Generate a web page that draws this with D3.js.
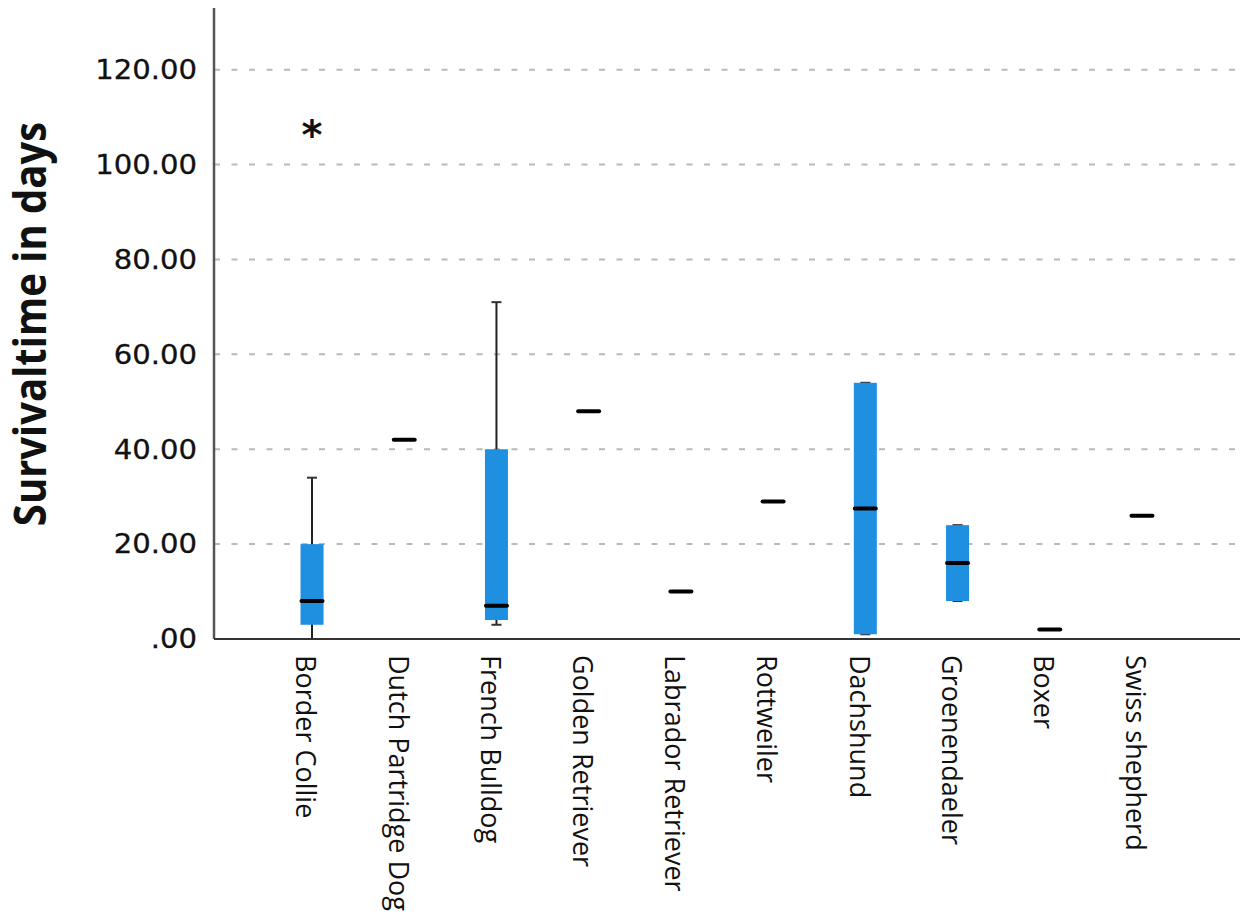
<!DOCTYPE html>
<html>
<head>
<meta charset="utf-8">
<script src="https://cdn.jsdelivr.net/npm/d3@7"></script>
<style>
  html, body { margin: 0; padding: 0; background: #fff; }
  svg { display: block; }
</style>
</head>
<body>
<svg id="chart" width="1248" height="920"></svg>
<script>
// ---- data ----
const categories = ["Border Collie", "Dutch Partridge Dog", "French Bulldog", "Golden Retriever",
  "Labrador Retriever", "Rottweiler", "Dachshund", "Groenendaeler", "Boxer", "Swiss shepherd"];
const whiskerLow  = [0,    null, 3,  null, null, null, 1,    8,  null, null];
const q1Values    = [3,    null, 4,  null, null, null, 1,    8,  null, null];
const medians     = [8,    42,   7,  48,   10,   29,   27.5, 16, 2,    26];
const q3Values    = [20,   null, 40, null, null, null, 54,   24, null, null];
const whiskerHigh = [34,   null, 71, null, null, null, 54,   24, null, null];
const outliers    = [[108], [], [], [], [], [], [], [], [], []];
const yTicks = [0, 20, 40, 60, 80, 100, 120];
const yTickLabels = [".00", "20.00", "40.00", "60.00", "80.00", "100.00", "120.00"];
const yTitle = "Survivaltime in days";

// ---- layout ----
const svg = d3.select("#chart");
const plotLeft = 214, plotRight = 1240, plotTop = 8, plotBottom = 639;

const x = d3.scalePoint().domain(categories).range([plotLeft, plotRight]).padding(1.063);
const y = d3.scaleLinear().domain([0, 133]).range([plotBottom, plotTop]);

const boxW = 23, medW = 25, capW = 10;
const fill = "#1f8fe0";

// gridlines
svg.append("g").selectAll("line").data(yTicks.filter(d => d > 0)).join("line")
  .attr("x1", plotLeft).attr("x2", plotRight)
  .attr("y1", d => y(d)).attr("y2", d => y(d))
  .attr("stroke", "#b9b9b9").attr("stroke-width", 2)
  .attr("stroke-dasharray", "6,11.5");

// y tick labels
const tl = svg.append("g");
yTicks.forEach((t, i) => {
  tl.append("text")
    .attr("transform", `translate(197,${y(t)}) scale(1.12,1)`)
    .attr("text-anchor", "end").attr("dy", "0.36em")
    .attr("font-family", "DejaVu Sans").attr("font-size", 26).attr("fill", "#111")
    .attr("stroke", "#111").attr("stroke-width", 0.3)
    .text(yTickLabels[i]);
});

// y title
svg.append("text")
  .attr("transform", `translate(30,324) scale(1.1,1) rotate(-90)`)
  .attr("text-anchor", "middle").attr("dy", "0.36em")
  .attr("font-family", "Open Sans").attr("font-weight", "bold").attr("font-size", 40)
  .attr("fill", "#111")
  .text(yTitle);

// boxes
const g = svg.append("g");
categories.forEach((c, i) => {
  const cx = x(c);
  if (whiskerHigh[i] != null) {
    g.append("line").attr("x1", cx).attr("x2", cx)
      .attr("y1", y(whiskerLow[i])).attr("y2", y(whiskerHigh[i]))
      .attr("stroke", "#222").attr("stroke-width", 2);
    [whiskerLow[i], whiskerHigh[i]].forEach(v => {
      g.append("line").attr("x1", cx - capW / 2).attr("x2", cx + capW / 2)
        .attr("y1", y(v)).attr("y2", y(v))
        .attr("stroke", "#333").attr("stroke-width", 2);
    });
    g.append("rect").attr("x", cx - boxW / 2).attr("width", boxW)
      .attr("y", y(q3Values[i])).attr("height", y(q1Values[i]) - y(q3Values[i]))
      .attr("fill", fill);
  }
  g.append("line").attr("x1", cx - medW / 2 + 2).attr("x2", cx + medW / 2 - 2)
    .attr("y1", y(medians[i])).attr("y2", y(medians[i]))
    .attr("stroke", "#000").attr("stroke-width", 4).attr("stroke-linecap", "round");
  outliers[i].forEach(v => {
    g.append("text").attr("x", cx).attr("y", y(v)).attr("dy", "0.55em")
      .attr("text-anchor", "middle")
      .attr("font-family", "DejaVu Sans").attr("font-weight", "bold")
      .attr("font-size", 40).attr("fill", "#111")
      .text("*");
  });
});

// axis lines
svg.append("line").attr("x1", plotLeft).attr("x2", plotLeft).attr("y1", plotTop).attr("y2", plotBottom)
  .attr("stroke", "#555").attr("stroke-width", 2.5);
svg.append("line").attr("x1", plotLeft).attr("x2", plotRight).attr("y1", plotBottom).attr("y2", plotBottom)
  .attr("stroke", "#333").attr("stroke-width", 2);

// x labels
const xl = svg.append("g");
categories.forEach(c => {
  xl.append("text")
    .attr("transform", `translate(${x(c) - 6},655) rotate(90)`)
    .attr("text-anchor", "start").attr("dy", "0.36em")
    .attr("font-family", "Open Sans").attr("font-size", 27).attr("fill", "#111")
    .text(c);
});
</script>
</body>
</html>
